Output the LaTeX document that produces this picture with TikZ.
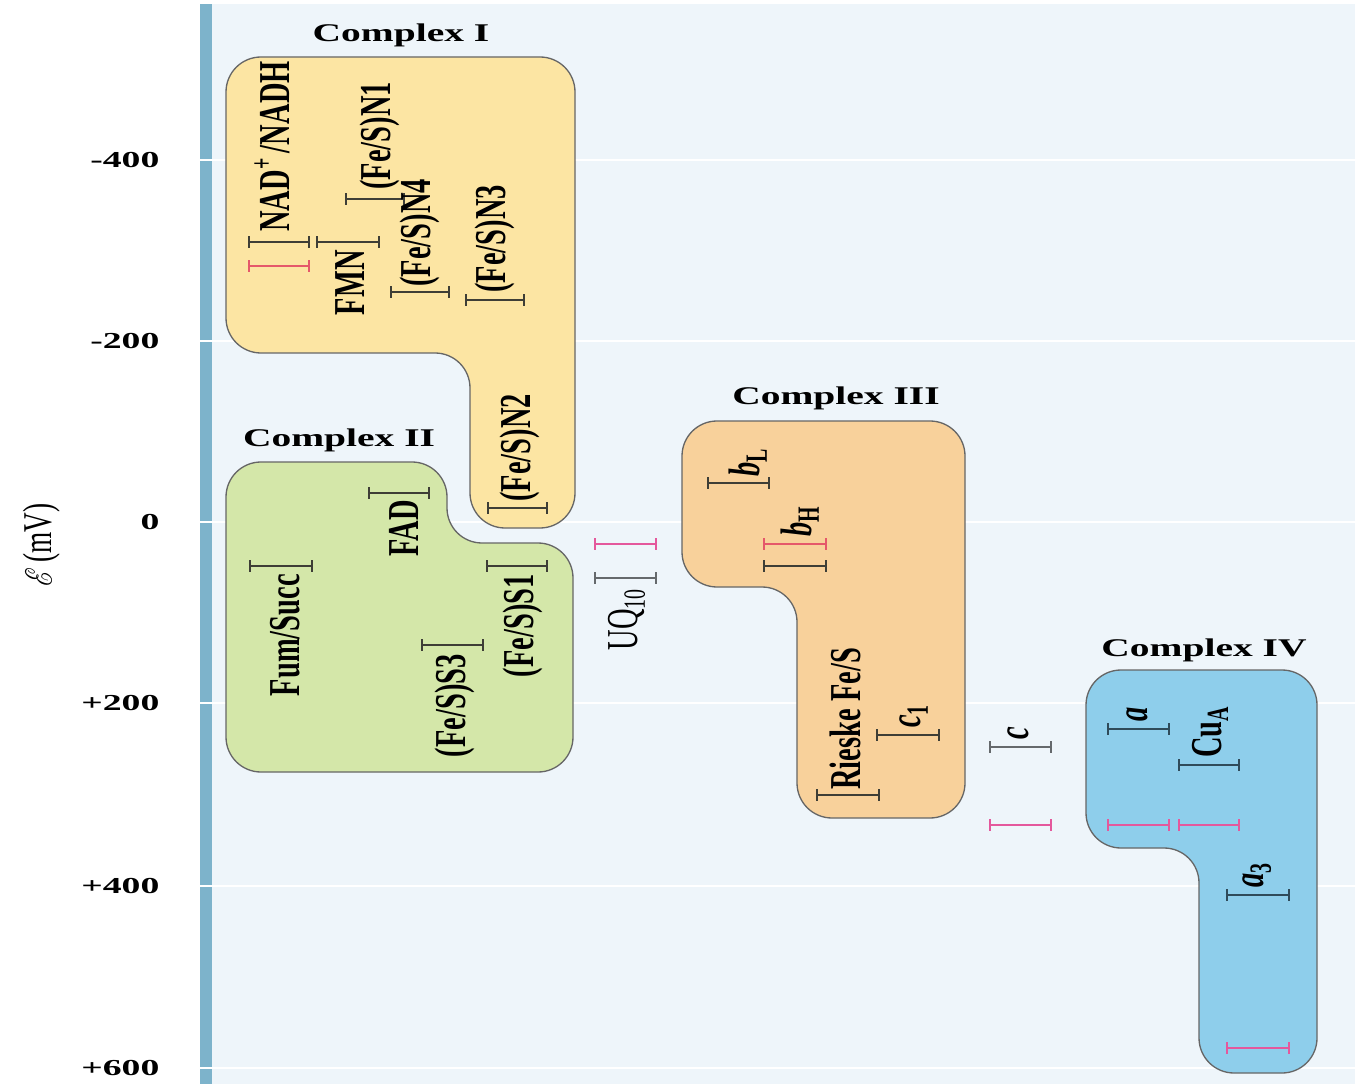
\documentclass[tikz,border=0pt]{standalone}
\usepackage{fontspec}
\setmainfont{Liberation Serif}
\usepackage{amsmath}
\usepackage{mathrsfs}
\usetikzlibrary{arrows.meta}
\definecolor{bgblue}{HTML}{EEF5FA}
\definecolor{axisblue}{HTML}{7DB3CB}
\definecolor{cIfill}{HTML}{FCE5A3}
\definecolor{cIIfill}{HTML}{D4E7A9}
\definecolor{cIIIfill}{HTML}{F8D19B}
\definecolor{cIVfill}{HTML}{8ECEEB}
\definecolor{bardark}{HTML}{3E3E36}
\definecolor{bargrey}{HTML}{65696C}
\definecolor{barblue}{HTML}{2F4B5A}
\definecolor{pinkbar}{HTML}{E4589C}
\definecolor{redbar}{HTML}{E5586A}

\begin{document}
\begin{tikzpicture}[x=0.02cm, y=-0.02cm, inner sep=0pt,
  cmplx/.style={draw=black!60, line width=0.75pt, rounded corners=0.7cm},
  bar/.style={{Bar[width=6.8pt]}-{Bar[width=6.8pt]}, line width=1pt, draw=bardark},
  pbar/.style={bar, draw=pinkbar},
  lbl/.style={font=\fontsize{16.2}{18}\selectfont\bfseries, rotate=90, yscale=1.55},
  up/.style={lbl, anchor=west},
  down/.style={lbl, anchor=east},
  title/.style={font=\fontsize{14.5}{17}\selectfont\bfseries, xscale=1.55},
  tick/.style={font=\fontsize{13}{15}\selectfont\bfseries, xscale=1.65, anchor=east},
  gridline/.style={draw=white, line width=1.6pt}]
\useasboundingbox (0,0) rectangle (1355,1084);
% background and scale
\fill[bgblue] (206,4) rectangle (1355,1084);
\fill[axisblue] (200,4) rectangle (212,1084);
\draw[gridline] (200,160) -- (1355,160);
\draw[gridline] (200,341) -- (1355,341);
\draw[gridline] (200,522) -- (1355,522);
\draw[gridline] (200,703) -- (1355,703);
\draw[gridline] (200,886) -- (1355,886);
\draw[gridline] (200,1068) -- (1355,1068);
\node[tick] (t1) at (160,160) {-400};
\node[tick] (t2) at (160,341) {-200};
\node[tick] (t3) at (160,522) {0};
\node[tick] (t4) at (160,703) {+200};
\node[tick] (t5) at (160,886) {+400};
\node[tick] (t6) at (160,1068) {+600};
\node[rotate=90, yscale=1.5, font=\fontsize{15.5}{17}\selectfont] (elab) at (42,545) {$\mathscr{E}$\,(mV)};
% complexes
\draw[cmplx, fill=cIfill] (226,57) -- (575,57) -- (575,528) -- (470,528) -- (470,353) -- (226,353) -- cycle;
\draw[cmplx, fill=cIIfill] (226,462) -- (447,462) -- (447,543) -- (573,543) -- (573,772) -- (226,772) -- cycle;
\draw[cmplx, fill=cIIIfill] (682,421) -- (965,421) -- (965,818) -- (797,818) -- (797,587) -- (682,587) -- cycle;
\draw[cmplx, fill=cIVfill] (1086,670) -- (1317,670) -- (1317,1073) -- (1199,1073) -- (1199,848) -- (1086,848) -- cycle;
\node[title] (cI) at (401,35) {Complex I};
\node[title] (cII) at (339,440) {Complex II};
\node[title] (cIII) at (836,398) {Complex III};
\node[title] (cIV) at (1204,650) {Complex IV};
% complex I
\coordinate (nad1) at (248,242); \coordinate (nad2) at (310,242); \draw[bar] (nad1) -- (nad2);
\coordinate (nadr1) at (248,266); \coordinate (nadr2) at (310,266); \draw[bar, draw=redbar] (nadr1) -- (nadr2);
\coordinate (fmn1) at (316,242); \coordinate (fmn2) at (380,242); \draw[bar] (fmn1) -- (fmn2);
\coordinate (nI1) at (345,199); \coordinate (nI2) at (405,199); \draw[bar] (nI1) -- (nI2);
\coordinate (nIV1) at (390,292); \coordinate (nIV2) at (450,292); \draw[bar] (nIV1) -- (nIV2);
\coordinate (nIII1) at (465,300); \coordinate (nIII2) at (525,300); \draw[bar] (nIII1) -- (nIII2);
\coordinate (nII1) at (487,508); \coordinate (nII2) at (548,508); \draw[bar] (nII1) -- (nII2);
\node[up] (nadlab) at (272,232) {NAD\textsuperscript{+}\,/NADH};
\node[down] (fmnlab) at (350,250) {FMN};
\node[up] (nIlab) at (380,190) {(Fe/S)N1};
\node[up] (nIVlab) at (420,287) {(Fe/S)N4};
\node[up] (nIIIlab) at (495,293) {(Fe/S)N3};
\node[up] (nIIlab) at (520,502) {(Fe/S)N2};
% complex II
\coordinate (fad1) at (368,493); \coordinate (fad2) at (430,493); \draw[bar] (fad1) -- (fad2);
\coordinate (fum1) at (249,566); \coordinate (fum2) at (313,566); \draw[bar] (fum1) -- (fum2);
\coordinate (sI1) at (486,566); \coordinate (sI2) at (548,566); \draw[bar] (sI1) -- (sI2);
\coordinate (sIII1) at (421,645); \coordinate (sIII2) at (484,645); \draw[bar] (sIII1) -- (sIII2);
\node[down] (fadlab) at (404,500) {FAD};
\node[down] (fumlab) at (285,574) {Fum/Succ};
\node[down] (sIlab) at (523,574) {(Fe/S)S1};
\node[down] (sIIIlab) at (455,654) {(Fe/S)S3};
% ubiquinone
\coordinate (uqp1) at (594,544); \coordinate (uqp2) at (657,544); \draw[pbar] (uqp1) -- (uqp2);
\coordinate (uq1) at (594,578); \coordinate (uq2) at (657,578); \draw[bar, draw=bargrey] (uq1) -- (uq2);
\node[down, font=\fontsize{16.2}{18}\selectfont] (uqlab) at (627,588) {UQ\textsubscript{10}};
% complex III
\coordinate (bL1) at (707,483); \coordinate (bL2) at (770,483); \draw[bar] (bL1) -- (bL2);
\coordinate (bHr1) at (763,544); \coordinate (bHr2) at (827,544); \draw[bar, draw=redbar] (bHr1) -- (bHr2);
\coordinate (bH1) at (763,566); \coordinate (bH2) at (827,566); \draw[bar] (bH1) -- (bH2);
\coordinate (rsk1) at (816,795); \coordinate (rsk2) at (880,795); \draw[bar] (rsk1) -- (rsk2);
\coordinate (cI1) at (876,735); \coordinate (cI2) at (940,735); \draw[bar] (cI1) -- (cI2);
\node[up] (bLlab) at (748,477) {$\textit{b}_\text{L}$};
\node[up] (bHlab) at (800,537) {$\textit{b}_\text{H}$};
\node[up] (rsklab) at (845,790) {Rieske Fe/S};
\node[up] (cIlab) at (914,728) {$\textit{c}_\text{1}$};
% cytochrome c
\coordinate (cc1) at (989,747); \coordinate (cc2) at (1052,747); \draw[bar, draw=bargrey] (cc1) -- (cc2);
\coordinate (ccp1) at (989,825); \coordinate (ccp2) at (1052,825); \draw[pbar] (ccp1) -- (ccp2);
\node[up] (cclab) at (1018,740) {\textit{c}};
% complex IV
\coordinate (a1) at (1107,729); \coordinate (a2) at (1170,729); \draw[bar, draw=barblue] (a1) -- (a2);
\coordinate (cu1) at (1178,765); \coordinate (cu2) at (1240,765); \draw[bar, draw=barblue] (cu1) -- (cu2);
\coordinate (ap1) at (1107,825); \coordinate (ap2) at (1170,825); \draw[pbar] (ap1) -- (ap2);
\coordinate (cup1) at (1178,825); \coordinate (cup2) at (1240,825); \draw[pbar] (cup1) -- (cup2);
\coordinate (aIII1) at (1226,895); \coordinate (aIII2) at (1290,895); \draw[bar, draw=barblue] (aIII1) -- (aIII2);
\coordinate (aIIIp1) at (1226,1048); \coordinate (aIIIp2) at (1290,1048); \draw[pbar] (aIIIp1) -- (aIIIp2);
\node[up] (alab) at (1137,722) {\textit{a}};
\node[up] (culab) at (1210,758) {Cu\textsubscript{A}};
\node[up] (aIIIlab) at (1257,888) {$\textit{a}_\text{3}$};
\end{tikzpicture}
\end{document}
